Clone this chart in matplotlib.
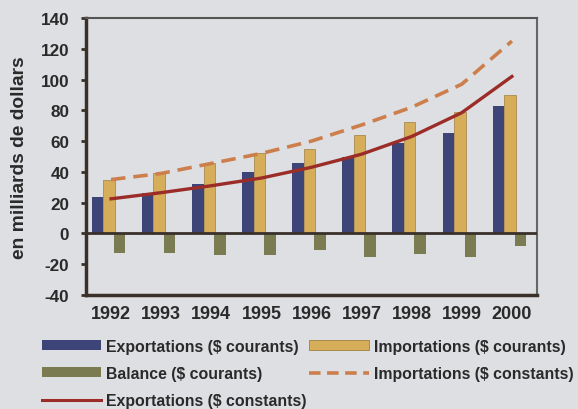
import matplotlib
matplotlib.use("Agg")
import matplotlib.pyplot as plt
import numpy as np
from matplotlib.patches import Patch
from matplotlib.lines import Line2D

years = ["1992", "1993", "1994", "1995", "1996", "1997", "1998", "1999", "2000"]
exp_cur = [24, 26.5, 32, 40, 45.5, 49.5, 59, 65, 82.5]
imp_cur = [35, 39, 46, 52, 55, 64, 72.5, 79, 90]
balance = [-13, -12.5, -14, -14, -10.5, -15.5, -13.5, -15, -8]
imp_const = [35, 39, 45.5, 52, 60, 70.5, 82, 97, 125]
exp_const = [22.5, 26.5, 31, 36, 43, 51.5, 63, 78.5, 102]

plt.rcParams['font.family'] = ['Liberation Sans', 'DejaVu Sans']
plt.rcParams['font.weight'] = 'bold'
plt.rcParams['axes.unicode_minus'] = False

bg = '#dedfe2'
c_blue = '#3d4478'
c_yel = '#d6ad58'
c_bal = '#7b7b52'
c_dash = '#cc7f4c'
c_red = '#9b2c28'
dark = '#3a302a'
txt = '#2a2a2a'

fig = plt.figure(figsize=(5.78, 4.10), dpi=100, facecolor=bg)
ax = fig.add_axes([0.1488, 0.278, 0.7802, 0.6757], facecolor=bg)

x = np.arange(len(years))
w = 0.23
ax.bar(x - 0.27, exp_cur, w, color=c_blue, zorder=2)
ax.bar(x - 0.04, imp_cur, w, color=c_yel, edgecolor='#a08040', linewidth=0.5, zorder=2)
ax.bar(x + 0.17, balance, w, color=c_bal, zorder=2)
ax.plot(x, imp_const, color=c_dash, lw=2.6, dashes=(4, 2.2), zorder=3)
ax.plot(x, exp_const, color=c_red, lw=2.4, zorder=3)
ax.axhline(0, color=dark, lw=2, zorder=4)

ax.set_xlim(-0.5, 8.5)
ax.set_ylim(-40, 140)
ax.set_yticks(np.arange(-40, 141, 20))
ax.set_xticks(x)
ax.set_xticklabels(years, fontsize=13, fontweight='bold', color=txt)
ax.tick_params(axis='y', labelsize=12.3, direction='out', length=3.5, width=2, color=dark, labelcolor=txt, pad=8.5)
ax.tick_params(axis='x', length=0, pad=7)
for lab in ax.get_yticklabels():
    lab.set_fontweight('bold')

ax.spines['left'].set_color(dark)
ax.spines['left'].set_linewidth(2.5)
ax.spines['bottom'].set_color(dark)
ax.spines['bottom'].set_linewidth(2.5)
ax.spines['top'].set_color('#555555')
ax.spines['top'].set_linewidth(1.5)
ax.spines['right'].set_color('#666666')
ax.spines['right'].set_linewidth(1.5)

ax.set_ylabel("en milliards de dollars", fontsize=13.9, fontweight='bold', color=txt)
ax.yaxis.set_label_coords(-0.128, 0.5)

handles = [
    Patch(facecolor=c_blue, label="Exportations ($ courants)"),
    Patch(facecolor=c_bal, label="Balance ($ courants)"),
    Line2D([0], [0], color=c_red, lw=2.2, label="Exportations ($ constants)"),
    Patch(facecolor=c_yel, edgecolor='#a08040', linewidth=0.6, label="Importations ($ courants)"),
    Line2D([0], [0], color=c_dash, lw=2.6, dashes=(3.2, 1.8), label="Importations ($ constants)"),
]
leg = fig.legend(handles=handles, ncol=2, loc='upper left', bbox_to_anchor=(0.0727, 0.171),
                 frameon=False, fontsize=11.4, handlelength=3.75, handleheight=0.6,
                 handletextpad=0.32, columnspacing=0.15, labelspacing=0.76, borderaxespad=0, borderpad=0)
for t in leg.get_texts():
    t.set_color(txt)
    t.set_fontweight('bold')

fig.savefig("out.png", dpi=100, facecolor=bg)
